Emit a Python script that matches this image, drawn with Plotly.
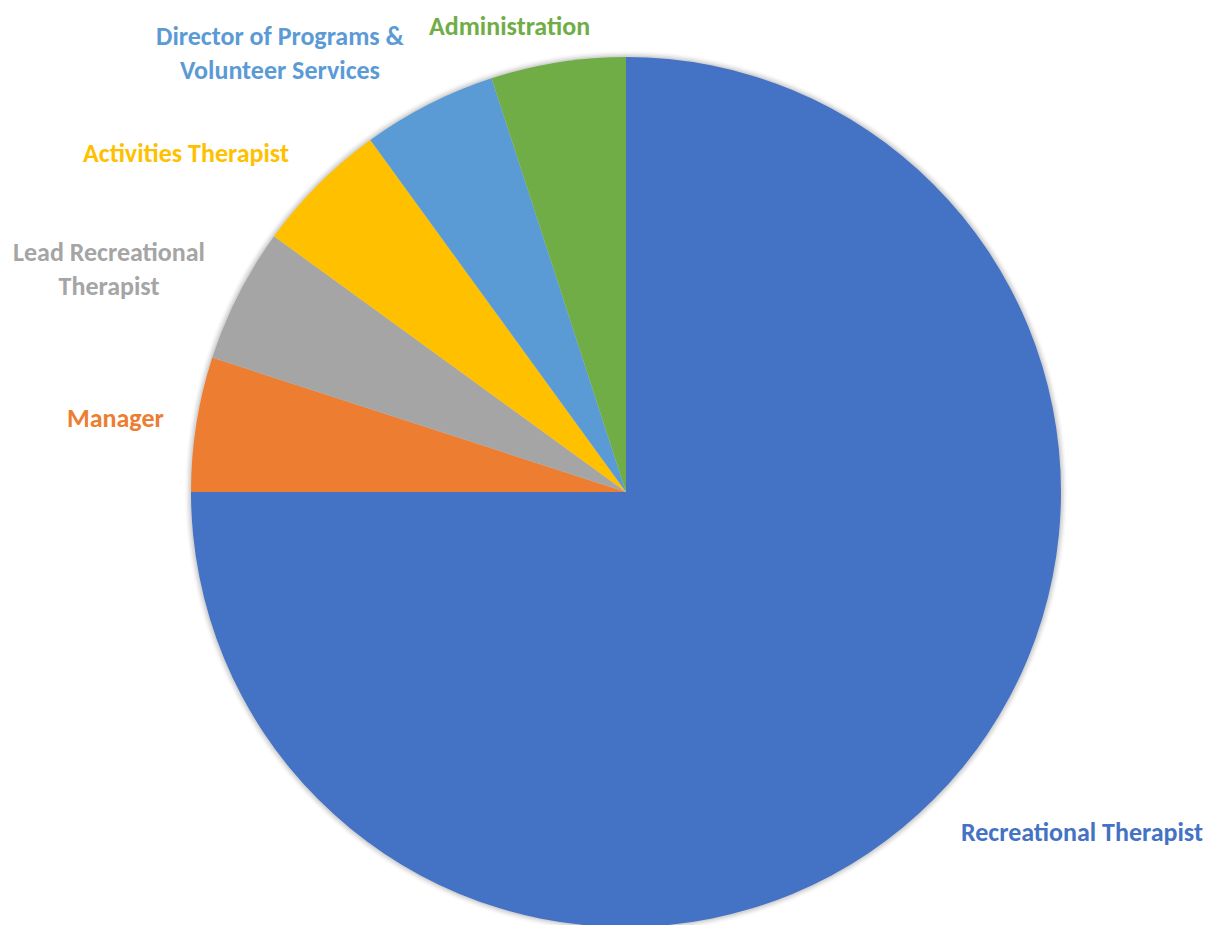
import plotly.graph_objs as go

# staff roles and headcount share
roles = [
    "Recreational Therapist",
    "Manager",
    "Lead Recreational Therapist",
    "Activities Therapist",
    "Director of Programs & Volunteer Services",
    "Administration",
]
counts = [15, 1, 1, 1, 1, 1]
colors = ["#4472C4", "#ED7D31", "#A5A5A5", "#FFC000", "#5B9BD5", "#70AD47"]

# label text (with line breaks) and where each sits on the page (px)
label_text = [
    "Recreational Therapist",
    "Manager",
    "Lead Recreational<br>Therapist",
    "Activities Therapist",
    "Director of Programs &<br>Volunteer Services",
    "Administration",
]
label_pos = [(1082, 832), (115, 418), (109, 269), (186, 153), (280, 53), (510, 26)]

W, H = 1215, 925
OFF = 8  # page body margin
cx, cy, r = 626 - OFF, 492 - OFF, 435
dom_x = [(cx - r) / W, (cx + r) / W]
dom_y = [1 - (cy + r) / H, 1 - (cy - r) / H]

fig = go.Figure()

# soft shadow behind the pie
for pad, alpha in [(6, 0.025), (4.5, 0.035), (3, 0.05), (1.5, 0.07)]:
    fig.add_trace(go.Pie(
        values=[1],
        marker=dict(colors=[f"rgba(0,0,0,{alpha})"]),
        domain=dict(x=[dom_x[0] - pad / W, dom_x[1] + pad / W],
                    y=[max(0, dom_y[0] - pad / H), dom_y[1] + pad / H]),
        textinfo="none",
        hoverinfo="skip",
        showlegend=False,
        sort=False,
    ))

fig.add_trace(go.Pie(
    labels=roles,
    values=counts,
    marker=dict(colors=colors, line=dict(width=0)),
    sort=False,
    direction="clockwise",
    rotation=0,
    textinfo="none",
    domain=dict(x=dom_x, y=dom_y),
    showlegend=False,
))

for txt, (px, py), col in zip(label_text, label_pos, colors):
    fig.add_annotation(
        text=txt,
        x=(px - OFF) / W, y=1 - (py - OFF) / H,
        xref="paper", yref="paper",
        xanchor="center", yanchor="middle",
        showarrow=False,
        align="center",
        font=dict(family="Carlito, Calibri, Open Sans", size=26, color=col, weight="bold"),
    )

fig.update_layout(
    width=W,
    height=H,
    margin=dict(l=0, r=0, t=0, b=0),
    paper_bgcolor="white",
    plot_bgcolor="white",
)

fig.write_html("out.html")
